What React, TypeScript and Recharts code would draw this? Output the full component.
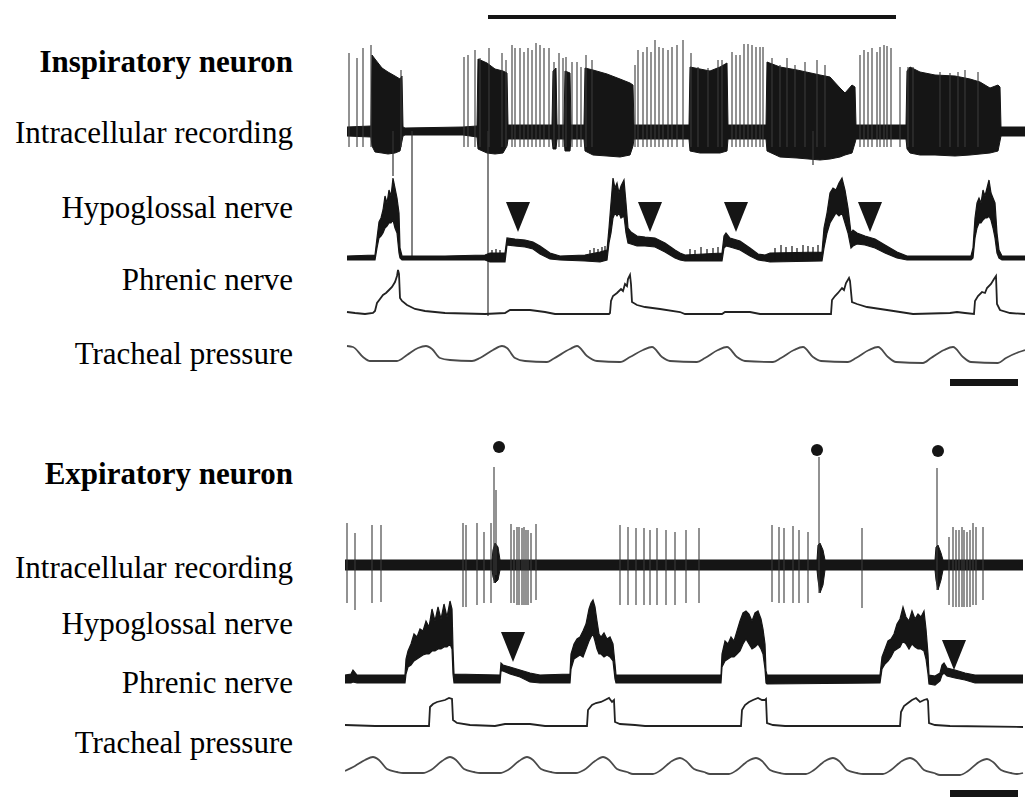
import React from 'react';
import { ComposedChart, Area, Line, XAxis, YAxis, ReferenceArea, Scatter } from 'recharts';

// ---------- DATA (x = sample index along the sweep, y = amplitude, arbitrary units, 0 = baseline) ----------
const titles = ['Inspiratory neuron', 'Expiratory neuron'];
const traceNames = ['Intracellular recording', 'Hypoglossal nerve', 'Phrenic nerve', 'Tracheal pressure'];

// Inspiratory neuron: membrane envelope [sample, low, high]
const inspEnv = [
  [2, -5, 4], [26, -6, 5],
  [27, -15, 76], [30, -21, 72], [37, -22, 63], [43, -23, 59], [50, -22, 55], [55, -20, 52], [57, -10, 55], [58, -5, 4],
  [60, -4, 3], [118, -4, 4], [132, -6, 5],
  [133, -18, 72], [142, -22, 68], [150, -23, 62], [158, -22, 60], [162, -15, 58], [163, -8, 6],
  [207, -8, 6], [208, -18, 60], [211, -18, 63], [212, -8, 6], [219, -8, 6], [220, -20, 60], [225, -20, 58], [226, -8, 6], [239, -8, 6],
  [240, -20, 63], [248, -24, 61], [262, -25, 57], [275, -26, 52], [285, -24, 48], [288, -15, 46], [289, -8, 6],
  [344, -8, 6], [345, -20, 64], [355, -22, 62], [365, -22, 60], [375, -22, 64], [382, -20, 68], [383, -8, 6],
  [421, -8, 6], [422, -20, 69], [435, -26, 64], [452, -27, 61], [475, -29, 56], [485, -28, 54], [495, -26, 43], [500, -24, 38], [507, -22, 46], [510, -12, 44], [511, -8, 6],
  [561, -8, 6], [562, -18, 60], [565, -22, 64], [575, -24, 59], [590, -24, 56], [610, -25, 55], [625, -24, 52], [635, -23, 49], [645, -22, 43], [653, -20, 46], [655, -10, 44], [656, -5, 4],
  [680, -5, 4],
];
// Inspiratory neuron: single spikes [sample, peak]
const inspSpikes = [
  [4, 78], [12, 73], [18, 83], [26, 86], [56, 61], [119, 74], [123, 76], [130, 81], [135, 73], [144, 83], [157, 78], [161, 71],
  [167, 86], [170, 83], [175, 83], [179, 79], [183, 83], [187, 81], [191, 88], [195, 86], [199, 83], [204, 83], [209, 69], [214, 78],
  [218, 73], [221, 74], [227, 69], [232, 69], [236, 64], [241, 76], [247, 71], [290, 66], [293, 81], [298, 79], [302, 84], [306, 79],
  [310, 91], [314, 84], [318, 83], [323, 81], [327, 84], [332, 86], [338, 91], [346, 78], [353, 64], [363, 63], [373, 71], [377, 71],
  [387, 79], [391, 76], [395, 76], [399, 87], [403, 87], [407, 86], [411, 84], [415, 84], [418, 84], [427, 73], [435, 66], [442, 73],
  [450, 66], [460, 69], [472, 71], [480, 66], [515, 76], [519, 81], [523, 79], [527, 83], [532, 79], [535, 84], [539, 86], [542, 85],
  [546, 83], [555, 64], [563, 64], [568, 64], [595, 59], [605, 58], [613, 59], [620, 61], [633, 59],
];
const inspSpikeTrough = -16;
// stimulus artefacts running downward [sample, lowest]
const inspArtifacts = [[48, -45], [67, -129], [143, -185], [468, -34]];
// horizontal bar above the recording [start, end]
const stimulusBar = [143, 551];

// Hypoglossal nerve (inspiratory neuron panel) [sample, low, high]
const hypTopEnv = [
  [2, -2, 2], [30, -2, 3], [32, 10, 20], [34, 20, 36], [36, 22, 40], [38, 25, 48], [40, 30, 62], [42, 32, 55], [44, 35, 68], [46, 35, 62],
  [48, 38, 80], [50, 30, 70], [52, 25, 60], [54, 5, 45], [55, 0, 10], [57, -2, 2], [100, -2, 2], [140, -2, 3], [145, -4, 5], [160, -4, 5],
  [162, 13, 20], [170, 12, 19], [180, 11, 18], [188, 9, 16], [195, 4, 12], [205, -1, 5], [215, -2, 2], [240, -3, 3], [255, -4, 6], [262, -2, 8],
  [264, 15, 30], [266, 25, 55], [268, 40, 80], [270, 45, 70], [272, 42, 75], [274, 45, 65], [276, 40, 72], [279, 42, 78], [281, 25, 55],
  [283, 15, 30], [286, 14, 26], [292, 12, 22], [300, 12, 21], [310, 11, 20], [320, 6, 15], [330, 0, 8], [335, -2, 5], [340, -3, 3],
  [377, -3, 5], [379, 10, 22], [381, 12, 25], [385, 11, 20], [395, 8, 17], [405, 2, 10], [413, -2, 4], [420, -3, 3], [425, -4, 5],
  [477, -3, 6], [479, 10, 30], [482, 25, 45], [485, 35, 65], [488, 40, 70], [491, 45, 68], [494, 42, 75], [497, 45, 80], [500, 35, 68],
  [503, 25, 50], [506, 10, 25], [508, 12, 28], [512, 14, 25], [520, 13, 22], [530, 10, 19], [540, 5, 13], [552, 0, 6], [562, -2, 2],
  [626, -2, 2], [628, 0, 10], [630, 20, 40], [632, 30, 55], [634, 35, 60], [636, 35, 55], [638, 38, 68], [640, 40, 62], [642, 40, 70],
  [644, 42, 78], [646, 38, 65], [648, 30, 60], [650, 20, 55], [652, 5, 25], [654, 0, 8], [657, -2, 2], [680, -2, 2],
];
const hypTopSpikes = [
  [147, 8], [151, 9], [155, 8], [245, 8], [249, 10], [253, 9], [257, 11], [260, 12], [345, 9], [350, 8], [356, 11], [362, 9], [368, 10],
  [373, 11], [430, 10], [436, 13], [441, 11], [447, 12], [452, 10], [458, 13], [463, 12], [468, 11], [473, 13],
];
const hypTopArrows = [[173, 26], [305, 26], [391, 26], [525, 26]];

// Phrenic nerve (inspiratory neuron panel) [sample, amplitude]
const phrTop = [
  [2, 2], [10, 1], [20, 0], [28, 1], [30, 3], [32, 11], [35, 15], [38, 19], [41, 21], [44, 24], [47, 27], [50, 32], [52, 38], [53, 44],
  [54, 40], [55, 16], [57, 13], [62, 9], [70, 5], [80, 3], [100, 1], [140, 0], [160, 1], [165, 4], [185, 4], [200, 2], [210, 0], [264, 0],
  [265, 1], [266, 13], [268, 18], [272, 21], [276, 25], [278, 23], [280, 30], [282, 28], [283, 35], [285, 39], [286, 30], [287, 12],
  [292, 9], [300, 7], [315, 5], [335, 2], [340, 0], [377, 0], [380, 2], [405, 2], [415, 0], [486, 0], [487, 14], [490, 18], [493, 21],
  [497, 26], [499, 24], [501, 31], [504, 36], [505, 33], [507, 12], [512, 10], [522, 7], [542, 4], [568, 0], [605, 1], [612, 2], [620, 1],
  [629, 0], [630, 13], [633, 18], [637, 22], [640, 21], [642, 26], [646, 30], [649, 35], [651, 38], [652, 10], [655, 4], [665, 1], [680, 0],
];

// Tracheal pressure (inspiratory neuron panel)
const trachTop = [
  [2, 15], [8, 14], [18, 4], [25, 0], [52, 0], [62, 6], [73, 13], [81, 15], [87, 12], [95, 3], [105, 1], [127, 0], [135, 3], [148, 11],
  [157, 15], [162, 13], [170, 3], [180, 0], [202, -1], [208, 2], [225, 12], [232, 15], [242, 5], [252, 0], [275, -1], [285, 4], [298, 11],
  [307, 14], [317, 4], [325, 0], [352, -1], [360, 3], [373, 11], [382, 14], [392, 4], [400, 0], [428, -1], [436, 3], [449, 11], [458, 14],
  [468, 4], [476, 0], [503, -1], [511, 3], [524, 11], [533, 14], [543, 4], [551, -1], [578, -2], [586, 3], [599, 11], [608, 14], [618, 4],
  [626, -1], [653, -2], [661, 3], [674, 9], [680, 11],
];
const timeBar = [605, 673];

// Expiratory neuron: membrane envelope [sample, low, high]
const expEnv = [
  [0, -5, 5], [147, -5, 5], [148, -12, 15], [150, -18, 22], [153, -15, 18], [155, -5, 5], [472, -5, 5], [473, -15, 20], [475, -28, 22],
  [478, -20, 15], [480, -5, 5], [590, -5, 5], [591, -15, 18], [593, -25, 20], [596, -15, 12], [598, -5, 5], [678, -5, 5],
];
// Expiratory neuron spikes [sample, peak, trough]
const expSpikes = [
  [2, 42, -38], [10, 32, -45], [27, 40, -38], [36, 40, -37], [118, 42, -42], [121, 40, -42], [132, 42, -40], [139, 33, -38], [146, 42, -38],
  [149, 98, -18], [151, 75, -10], [166, 41, -38], [169, 35, -38], [172, 38, -40], [174, 38, -40], [177, 37, -40], [179, 38, -40],
  [181, 35, -40], [183, 35, -40], [186, 32, -38], [191, 41, -35], [275, 40, -40], [283, 38, -40], [291, 37, -40], [299, 37, -40],
  [305, 35, -40], [312, 37, -40], [321, 35, -40], [330, 33, -40], [341, 35, -38], [354, 37, -38], [427, 40, -37], [434, 38, -38],
  [439, 37, -38], [448, 39, -38], [454, 35, -38], [463, 33, -38], [474, 108, -28], [517, 37, -43], [592, 97, -25], [604, 28, -40],
  [608, 38, -42], [611, 35, -42], [614, 35, -42], [617, 38, -42], [619, 35, -42], [622, 33, -42], [625, 35, -42], [628, 42, -40],
  [631, 38, -40], [638, 38, -35],
];
const expDots = [[154, 118], [472, 115], [593, 114]];

// Hypoglossal nerve (expiratory neuron panel) [sample, low, high]
const hypBotEnv = [
  [0, -4, 4], [6, -4, 5], [8, -3, 9], [12, -4, 4], [60, -4, 4], [61, 5, 20], [63, 12, 28], [66, 14, 35], [69, 18, 45], [72, 20, 42],
  [75, 22, 50], [78, 24, 48], [81, 25, 58], [84, 25, 52], [87, 28, 70], [90, 28, 58], [93, 30, 72], [96, 30, 60], [99, 32, 75],
  [102, 32, 62], [105, 35, 78], [107, 30, 70], [108, 5, 30], [109, -4, 5], [155, -4, 4], [156, 8, 16], [158, 8, 14], [165, 5, 12],
  [175, 2, 9], [185, -3, 6], [195, -4, 4], [225, -4, 5], [226, 10, 25], [229, 20, 35], [232, 22, 40], [235, 24, 42], [238, 22, 48],
  [241, 30, 55], [244, 38, 70], [246, 42, 76], [248, 45, 79], [250, 38, 72], [252, 30, 58], [254, 25, 45], [256, 25, 42], [259, 22, 46],
  [262, 24, 40], [265, 22, 42], [268, 18, 35], [270, 0, 15], [271, -4, 4], [376, -4, 4], [377, 12, 25], [380, 18, 38], [383, 20, 35],
  [386, 22, 42], [389, 22, 38], [392, 25, 48], [395, 28, 58], [398, 35, 66], [401, 40, 68], [404, 35, 65], [407, 30, 58], [410, 32, 66],
  [413, 35, 68], [416, 30, 60], [418, 25, 50], [420, 10, 35], [421, -4, 8], [422, -5, 4], [535, -4, 4], [537, 10, 22], [540, 15, 30],
  [543, 18, 38], [546, 22, 40], [549, 28, 45], [552, 30, 55], [555, 32, 60], [558, 38, 72], [561, 35, 62], [564, 30, 58], [567, 35, 68],
  [570, 32, 60], [573, 30, 65], [576, 30, 62], [579, 28, 68], [581, 20, 50], [583, 5, 25], [584, -5, 4], [590, -6, 3], [595, -2, 6],
  [597, 4, 14], [599, 6, 16], [602, 3, 11], [610, 1, 9], [620, -1, 6], [630, -4, 4], [678, -4, 4],
];
const hypBotArrows = [[168, 17], [609, 9]];

// Phrenic nerve (expiratory neuron panel)
const phrBot = [
  [0, 1], [30, 0], [84, 0], [85, 19], [88, 22], [92, 24], [96, 25], [100, 26], [104, 28], [107, 27], [108, 6], [112, 3], [125, 1], [150, 0],
  [160, 2], [185, 2], [200, 0], [242, 0], [243, 16], [247, 21], [251, 23], [256, 24], [260, 26], [264, 28], [267, 24], [269, 26], [270, 4],
  [275, 2], [290, 1], [300, 0], [396, 0], [397, 16], [400, 21], [404, 24], [408, 26], [413, 28], [417, 26], [420, 26], [421, 27], [422, 3],
  [428, 1], [440, 0], [555, 0], [556, 14], [559, 20], [563, 23], [567, 26], [571, 28], [575, 24], [579, 26], [582, 27], [583, 25], [584, 3],
  [590, 1], [605, 0], [678, -1],
];

// Tracheal pressure (expiratory neuron panel)
const trachBot = [
  [0, 2], [10, 7], [20, 13], [28, 16], [34, 13], [42, 4], [52, 1], [58, 0], [78, 0], [86, 3], [97, 12], [105, 16], [111, 13], [119, 4],
  [129, 1], [135, 0], [155, 0], [163, 3], [174, 12], [182, 16], [188, 13], [196, 4], [206, 1], [212, 0], [231, 0], [239, 3], [250, 12],
  [258, 16], [264, 13], [272, 4], [282, 1], [288, -1], [308, -1], [316, 3], [327, 12], [335, 15], [341, 12], [349, 4], [359, 1], [365, -1],
  [384, -1], [392, 3], [403, 12], [411, 15], [417, 12], [425, 3], [435, 0], [441, -1], [461, -1], [469, 3], [480, 12], [488, 15], [494, 12],
  [502, 3], [512, 0], [518, -1], [538, -1], [546, 3], [557, 12], [565, 15], [571, 12], [579, 3], [589, 0], [595, -2], [615, -2], [623, 2],
  [634, 11], [642, 14], [648, 11], [656, 3], [666, 0], [672, -1], [678, 0],
];

// ---------- LAYOUT ----------
const PLOT_LEFT = 345;
const PLOT_W = 680;
const X_DOMAIN: [number, number] = [0, 680];
const INK = '#151515';

const toRange = (rows: number[][]) => rows.map(([s, lo, hi]) => ({ s, v: [lo, hi] }));
const toLine = (rows: number[][]) => rows.map(([s, v]) => ({ s, v }));
const toSpikes = (rows: number[][], trough?: number) =>
  rows.flatMap(([s, top, b]) => [{ s, v: b ?? trough }, { s, v: top }, { s, v: null }]);
const toDrops = (rows: number[][]) => rows.flatMap(([s, low]) => [{ s, v: 0 }, { s, v: low }, { s, v: null }]);
const toPoints = (rows: number[][]) => rows.map(([s, v]) => ({ s, v }));

const ArrowHead = (p: any) => (
  <polygon points={`${p.cx - 12},${p.cy - 30} ${p.cx + 12},${p.cy - 30} ${p.cx},${p.cy}`} fill={INK} />
);
const Dot = (p: any) => <circle cx={p.cx} cy={p.cy} r={6} fill={INK} />;

function Trace({ base, lo, hi, data, children }: { base: number; lo: number; hi: number; data?: any[]; children: any }) {
  const h = hi - lo;
  return (
    <div style={{ position: 'absolute', left: PLOT_LEFT, top: base - hi, width: PLOT_W, height: h }}>
      <ComposedChart width={PLOT_W} height={h} data={data} margin={{ top: 0, right: 0, bottom: 0, left: 0 }}>
        <XAxis dataKey="s" type="number" domain={X_DOMAIN} hide allowDataOverflow />
        <YAxis type="number" domain={[lo, hi]} hide allowDataOverflow />
        {children}
      </ComposedChart>
    </div>
  );
}

const labelX = 293;
const topLabelY = [143, 218, 290, 364];
const botLabelY = [578, 634, 693, 753];

export default function App() {
  return (
    <div style={{ position: 'absolute', left: 0, top: 0, width: 1028, height: 798, background: '#fff', overflow: 'hidden' }}>
      <svg width={1028} height={798} style={{ position: 'absolute', left: 0, top: 0 }}>
        <g fontFamily='"Liberation Serif", "Times New Roman", serif' fontSize={31} fill="#000" textAnchor="end">
          <text x={labelX} y={72} fontWeight="bold">{titles[0]}</text>
          {traceNames.map((t, i) => <text key={'t' + i} x={labelX} y={topLabelY[i]}>{t}</text>)}
          <text x={labelX} y={484} fontWeight="bold">{titles[1]}</text>
          {traceNames.map((t, i) => <text key={'b' + i} x={labelX} y={botLabelY[i]}>{t}</text>)}
        </g>
      </svg>

      {/* Inspiratory neuron: intracellular */}
      <Trace base={131} lo={-190} hi={120} data={toRange(inspEnv)}>
        <ReferenceArea x1={stimulusBar[0]} x2={stimulusBar[1]} y1={112} y2={116} fill={INK} fillOpacity={1} stroke="none" />
        <Area dataKey="v" type="linear" stroke={INK} strokeWidth={1} fill={INK} fillOpacity={1} dot={false} activeDot={false} isAnimationActive={false} />
        <Line data={toSpikes(inspSpikes, inspSpikeTrough)} dataKey="v" type="linear" stroke="#3a3a3a" strokeWidth={1.1} dot={false} activeDot={false} connectNulls={false} isAnimationActive={false} />
        <Line data={toDrops(inspArtifacts)} dataKey="v" type="linear" stroke="#333" strokeWidth={1.2} dot={false} activeDot={false} connectNulls={false} isAnimationActive={false} />
      </Trace>

      {/* Inspiratory neuron: hypoglossal */}
      <Trace base={258} lo={-15} hi={85} data={toRange(hypTopEnv)}>
        <Area dataKey="v" type="linear" stroke={INK} strokeWidth={1.2} fill={INK} fillOpacity={1} dot={false} activeDot={false} isAnimationActive={false} />
        <Line data={toSpikes(hypTopSpikes, -3)} dataKey="v" type="linear" stroke={INK} strokeWidth={1.2} dot={false} activeDot={false} connectNulls={false} isAnimationActive={false} />
        <Scatter data={toPoints(hypTopArrows)} dataKey="v" shape={ArrowHead} isAnimationActive={false} />
      </Trace>

      {/* Inspiratory neuron: phrenic */}
      <Trace base={314} lo={-6} hi={48}>
        <Line data={toLine(phrTop)} dataKey="v" type="linear" stroke="#222" strokeWidth={1.8} dot={false} activeDot={false} isAnimationActive={false} />
      </Trace>

      {/* Inspiratory neuron: tracheal pressure */}
      <Trace base={361} lo={-28} hi={18}>
        <ReferenceArea x1={timeBar[0]} x2={timeBar[1]} y1={-25} y2={-18} fill={INK} fillOpacity={1} stroke="none" />
        <Line data={toLine(trachTop)} dataKey="v" type="monotone" stroke="#4a4a4a" strokeWidth={1.8} dot={false} activeDot={false} isAnimationActive={false} />
      </Trace>

      {/* Expiratory neuron: intracellular */}
      <Trace base={565} lo={-50} hi={125} data={toRange(expEnv)}>
        <Line data={toSpikes(expSpikes)} dataKey="v" type="linear" stroke="#3a3a3a" strokeWidth={1.1} dot={false} activeDot={false} connectNulls={false} isAnimationActive={false} />
        <Area dataKey="v" type="linear" stroke={INK} strokeWidth={1} fill={INK} fillOpacity={1} dot={false} activeDot={false} isAnimationActive={false} />
        <Scatter data={toPoints(expDots)} dataKey="v" shape={Dot} isAnimationActive={false} />
      </Trace>

      {/* Expiratory neuron: hypoglossal */}
      <Trace base={679} lo={-10} hi={82} data={toRange(hypBotEnv)}>
        <Area dataKey="v" type="linear" stroke={INK} strokeWidth={1.2} fill={INK} fillOpacity={1} dot={false} activeDot={false} isAnimationActive={false} />
        <Scatter data={toPoints(hypBotArrows)} dataKey="v" shape={ArrowHead} isAnimationActive={false} />
      </Trace>

      {/* Expiratory neuron: phrenic */}
      <Trace base={726} lo={-6} hi={34}>
        <Line data={toLine(phrBot)} dataKey="v" type="linear" stroke="#222" strokeWidth={1.8} dot={false} activeDot={false} isAnimationActive={false} />
      </Trace>

      {/* Expiratory neuron: tracheal pressure */}
      <Trace base={773} lo={-28} hi={20}>
        <ReferenceArea x1={timeBar[0]} x2={timeBar[1]} y1={-24} y2={-17} fill={INK} fillOpacity={1} stroke="none" />
        <Line data={toLine(trachBot)} dataKey="v" type="monotone" stroke="#4a4a4a" strokeWidth={1.8} dot={false} activeDot={false} isAnimationActive={false} />
      </Trace>
    </div>
  );
}
